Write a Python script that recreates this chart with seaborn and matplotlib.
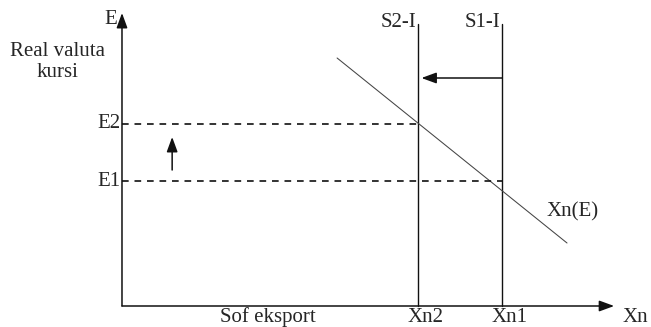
import matplotlib
matplotlib.use("Agg")
import matplotlib.pyplot as plt
import seaborn as sns
import pandas as pd

# Quantities of net exports (horizontal) and real exchange-rate levels (vertical)
xn_levels = [7.8, 10.0]
xn_labels = ["Xn2", "Xn1"]
saving_labels = ["S2-I", "S1-I"]
e_levels = [5.0, 7.3]
e_labels = ["E1", "E2"]

# Net export schedule Xn(E), downward sloping
demand_x = [5.66, 11.71]
demand_y = [9.92, 2.52]

x_axis_end = 12.95
y_axis_end = 11.72
saving_top = 11.28
shift_arrow_y = 9.12
rise_arrow_x = 1.32
rise_arrow_y = [5.44, 6.76]

sns.set_style("white")
plt.rcParams["font.family"] = ["Liberation Serif", "DejaVu Serif"]

fig = plt.figure(figsize=(6.51, 3.27), dpi=100)
ax = fig.add_axes([0, 0, 1, 1])
ax.set_xlim(-3.21, 13.92)
ax.set_ylim(-0.84, 12.24)
ax.axis("off")

fs = 15
ink = "#111111"
head = dict(arrowstyle="-|>,head_length=0.9,head_width=0.33", color=ink, lw=1.1,
            shrinkA=0, shrinkB=0)

# Axes with arrowheads
ax.annotate("", xy=(0, y_axis_end), xytext=(0, 0), arrowprops=head)
ax.annotate("", xy=(x_axis_end, 0), xytext=(0, 0), arrowprops=head)

# Vertical S-I schedules
for xv, lab in zip(xn_levels, saving_labels):
    ax.plot([xv, xv], [0, saving_top], color=ink, lw=1.0)
    ax.text(xv - 0.05, saving_top + 0.05, lab, ha="right", va="center", fontsize=fs)

# Net export schedule
df = pd.DataFrame({"x": demand_x, "y": demand_y})
sns.lineplot(data=df, x="x", y="y", ax=ax, color="#444444", lw=0.75)
ax.text(11.18, 3.76, "Xn(E)", ha="left", va="center", fontsize=fs)

# Dashed guides for the exchange-rate levels
for ev, xv, lab in zip(e_levels, xn_levels[::-1], e_labels):
    ax.plot([0, xv], [ev, ev], color=ink, lw=1.2, ls=(0, (4, 3.5)))
    ax.text(-0.05, ev, lab, ha="right", va="center", fontsize=fs)

# Shift of the saving schedule and rise of the exchange rate
ax.annotate("", xy=(xn_levels[0] + 0.08, shift_arrow_y),
            xytext=(xn_levels[1], shift_arrow_y), arrowprops=head)
ax.annotate("", xy=(rise_arrow_x, rise_arrow_y[1]),
            xytext=(rise_arrow_x, rise_arrow_y[0]), arrowprops=head)

# Axis labels
ax.text(-0.13, 11.44, "E", ha="right", va="center", fontsize=fs)
ax.text(-1.71, 9.76, "Real valuta\nkursi", ha="center", va="center",
        multialignment="center", fontsize=fs, linespacing=1.1)
ax.text(3.84, -0.44, "Sof eksport", ha="center", va="center", fontsize=fs)
for xv, lab in zip(xn_levels, xn_labels):
    ax.text(xv + 0.2, -0.44, lab, ha="center", va="center", fontsize=fs)
ax.text(13.18, -0.44, "Xn", ha="left", va="center", fontsize=fs)

fig.savefig("out.png", dpi=100)
